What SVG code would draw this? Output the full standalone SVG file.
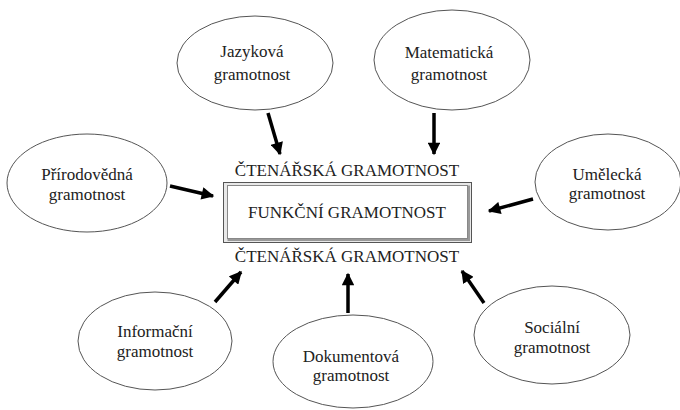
<svg xmlns="http://www.w3.org/2000/svg" width="680" height="410" viewBox="0 0 680 410">
<defs>
<marker id="ah" viewBox="0 0 10 10" refX="9" refY="5" markerWidth="3.8" markerHeight="3.6" orient="auto" markerUnits="strokeWidth">
<path d="M0,0 L10,5 L0,10 Z" fill="#000"/>
</marker>
<style>
.el{fill:#fff;stroke:#555;stroke-width:1}
.t{font-family:"Liberation Serif","Times New Roman",serif;font-size:17px;fill:#222;text-anchor:middle}
.ar{stroke:#000;stroke-width:3.5;fill:none;marker-end:url(#ah)}
</style>
</defs>
<rect width="680" height="410" fill="#fff"/>
<g id="center">
<rect x="223.5" y="182.5" width="248" height="60" fill="#e8e8e8" stroke="#555" stroke-width="1"/>
<path d="M468.5,185.5 V239.5 H227.5" fill="none" stroke="#999" stroke-width="3"/>
<rect x="227.5" y="185.5" width="240" height="53" fill="#fff" stroke="#888" stroke-width="1"/>
<text class="t" x="347" y="218">FUNKČNÍ GRAMOTNOST</text>
</g>
<g id="ctenarska-top"><text class="t" x="347" y="176">ČTENÁŘSKÁ GRAMOTNOST</text></g>
<g id="ctenarska-bottom"><text class="t" x="347" y="262">ČTENÁŘSKÁ GRAMOTNOST</text></g>
<g id="jazykova">
<ellipse class="el" cx="255" cy="63" rx="78" ry="47"/>
<text class="t" x="252" y="57">Jazyková</text>
<text class="t" x="252" y="80">gramotnost</text>
</g>
<g id="matematicka">
<ellipse class="el" cx="452" cy="60" rx="78" ry="50"/>
<text class="t" x="449" y="58">Matematická</text>
<text class="t" x="449" y="80">gramotnost</text>
</g>
<g id="prirodovedna">
<ellipse class="el" cx="87" cy="183" rx="80" ry="49"/>
<text class="t" x="87" y="180">Přírodovědná</text>
<text class="t" x="87" y="200">gramotnost</text>
</g>
<g id="umelecka">
<ellipse class="el" cx="608" cy="182" rx="73" ry="48"/>
<text class="t" x="607" y="180">Umělecká</text>
<text class="t" x="607" y="199">gramotnost</text>
</g>
<g id="informacni">
<ellipse class="el" cx="155" cy="341" rx="77" ry="49"/>
<text class="t" x="155" y="337">Informační</text>
<text class="t" x="155" y="357">gramotnost</text>
</g>
<g id="dokumentova">
<ellipse class="el" cx="353" cy="361.5" rx="80" ry="46.5"/>
<text class="t" x="351" y="362">Dokumentová</text>
<text class="t" x="351" y="381">gramotnost</text>
</g>
<g id="socialni">
<ellipse class="el" cx="552" cy="335" rx="78" ry="49"/>
<text class="t" x="552" y="333">Sociální</text>
<text class="t" x="552" y="353">gramotnost</text>
</g>
<g id="connectors">
<line class="ar" x1="268" y1="113" x2="280" y2="154"/>
<line class="ar" x1="434" y1="113" x2="434" y2="154"/>
<line class="ar" x1="170" y1="186" x2="213" y2="196"/>
<line class="ar" x1="533" y1="199" x2="489" y2="211"/>
<line class="ar" x1="215" y1="302" x2="241" y2="272"/>
<line class="ar" x1="348" y1="313" x2="348" y2="274"/>
<line class="ar" x1="484" y1="303" x2="462" y2="271"/>
</g>
</svg>
